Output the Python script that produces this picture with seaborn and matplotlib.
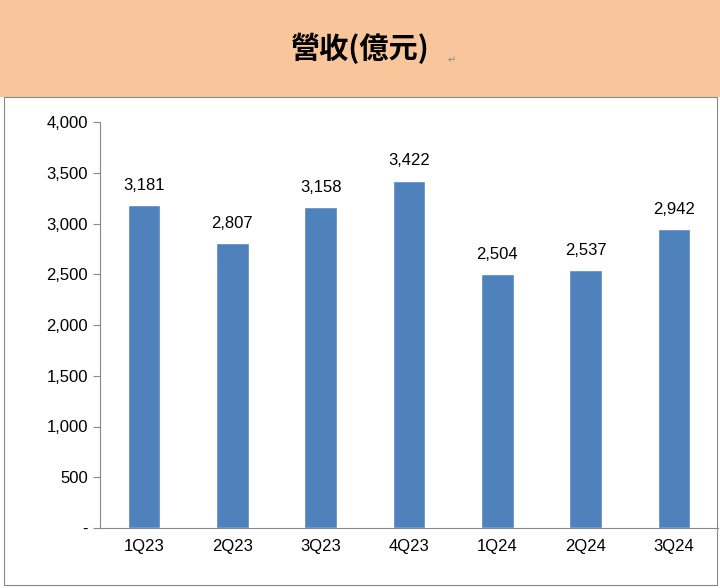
import matplotlib
matplotlib.use("Agg")
import matplotlib.pyplot as plt
import seaborn as sns
import pandas as pd
from matplotlib.patches import Rectangle

quarters = ["1Q23", "2Q23", "3Q23", "4Q23", "1Q24", "2Q24", "3Q24"]
revenue = [3181, 2807, 3158, 3422, 2504, 2537, 2942]
yticks = [0, 500, 1000, 1500, 2000, 2500, 3000, 3500, 4000]
ylabels = ["-", "500", "1,000", "1,500", "2,000", "2,500", "3,000", "3,500", "4,000"]

df = pd.DataFrame({"q": quarters, "v": revenue})
sns.set_theme(style="white")
cjk = ["Noto Sans CJK TC", "Noto Sans CJK JP", "Noto Sans CJK SC", "Noto Sans CJK KR", "DejaVu Sans"]

fig = plt.figure(figsize=(7.2, 5.88), dpi=100)
# title band
fig.patches.append(Rectangle((0, 1 - 97 / 588), 1, 97 / 588, transform=fig.transFigure,
                             facecolor="#F9C59B", edgecolor="none"))
fig.patches.append(Rectangle((0.006, 0.005), 0.99, 1 - 97 / 588 - 0.005, transform=fig.transFigure,
                             facecolor="none", edgecolor="#888888", lw=0.8))
fig.text(0.5, 1 - 48 / 588, "營收(億元)", ha="center", va="center", fontsize=21,
         fontweight="bold", family=cjk, color="black")
fig.text(0.627, 1 - 60 / 588, "↵", ha="center", va="center", fontsize=7, color="#888888",
         family="DejaVu Sans")

ax = fig.add_axes([100 / 720, 60 / 588, 618 / 720, 406 / 588])
sns.barplot(data=df, x="q", y="v", color="#4F81BD", saturation=1, width=0.37, ax=ax)
ax.set_ylim(0, 4000)
ax.set_yticks(yticks)
ax.set_yticklabels(ylabels, fontsize=12, family="Liberation Sans", color="black")
ax.tick_params(axis="x", labelsize=12, length=0, pad=8, labelcolor="black")
for lab in ax.get_xticklabels():
    lab.set_family("Liberation Sans")
ax.tick_params(axis="y", left=True, length=5, width=0.8, color="#888888")
ax.set_xlabel("")
ax.set_ylabel("")
for s in ["top", "right"]:
    ax.spines[s].set_visible(False)
for s in ["left", "bottom"]:
    ax.spines[s].set_color("#888888")
    ax.spines[s].set_linewidth(0.8)
ax.set_xlim(-0.5, len(quarters) - 0.5)
for p in ax.patches:
    h = p.get_height()
    ax.text(p.get_x() + p.get_width() / 2, h + 120, f"{int(h):,}", ha="center", va="bottom",
            fontsize=12, family="Liberation Sans", color="black")

fig.savefig("out.png", dpi=100)
